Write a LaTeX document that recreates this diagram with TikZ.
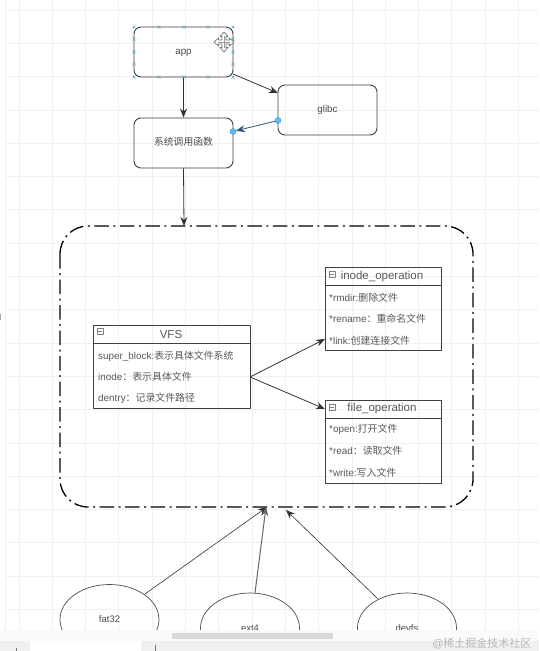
\documentclass[tikz,border=0pt]{standalone}
\usepackage{fontspec}
\setmainfont{Liberation Sans}
\newfontfamily\cjk{Noto Sans CJK SC}
\usetikzlibrary{arrows.meta,shapes.geometric}
\newcommand{\zh}[1]{{\cjk #1}}
\definecolor{portblue}{RGB}{90,190,235}
\definecolor{linkblue}{RGB}{45,85,125}
\tikzset{
	flowbox/.style={draw=black!75,rounded corners=7pt,minimum width=99pt,minimum height=50pt,inner sep=0pt,font=\fontsize{9.8}{11}\selectfont,text=black!70,text height=6pt,text depth=2pt,line width=0.9pt},
	fsnode/.style={draw=black!70,ellipse,minimum width=99pt,minimum height=70pt,inner sep=0pt,line width=0.7pt,font=\fontsize{9.5}{11}\selectfont,text=black!70},
	tablebox/.style={draw=black!75,anchor=north west,inner sep=0pt,line width=0.8pt},
	tablehead/.style={anchor=center,inner sep=0pt,font=\fontsize{11.5}{13}\selectfont,text=black!65},
	tablerow/.style={anchor=west,inner sep=0pt,font=\fontsize{9.9}{11}\selectfont,text=black!65},
	link/.style={draw=black!80,line width=0.8pt,-{Stealth[length=9pt,width=7pt]}},
	handle/.style={cyan!55!gray,line width=0.7pt},
	port/.style={circle,fill=portblue,draw=portblue!70!blue,minimum size=6pt,inner sep=0pt}
}
\begin{document}
\begin{tikzpicture}[x=1pt,y=-1pt,line join=round]
	\useasboundingbox (0,0) rectangle (539,651);
	\fill[white] (0,0) rectangle (539,651);
	% grid
	\foreach \i in {0,...,15} {
		\draw[black!6,line width=1pt] (19+33.3*\i,0) -- (19+33.3*\i,630);
	}
	\foreach \i in {0,...,18} {
		\draw[black!6,line width=0.8pt] (5,10+33.3*\i) -- (539,10+33.3*\i);
	}
	\draw[black!6,line width=1pt] (5,0) -- (5,651);
	\draw[black!35,line width=1pt] (0.5,314) -- (0.5,320);
	
	% boxes on top
	\node[flowbox] (app) at (183.5,52) {app};
	\node[flowbox] (glibc) at (327.5,110) {glibc};
	\node[flowbox] (syscall) at (183.5,143) {\zh{系统调用函数}};
	
	% container
	\draw[black,line width=1.3pt,dash pattern=on 14.5pt off 4.5pt on 2pt off 4.5pt,rounded corners=28pt] (60,226) rectangle (473,507);
	\coordinate (vfstop) at (184,226);
	
	% VFS table
	\node[tablebox,minimum width=157pt,minimum height=83pt] (vfs) at (93,325) {};
	\draw[black!75,line width=0.8pt] (93,343) -- (250,343);
	\node[tablehead] (vfshead) at (171,335) {VFS};
	\node[tablerow] (vfsa) at (98,356) {super\_block:\zh{表示具体文件系统}};
	\node[tablerow] (vfsb) at (98,377) {inode\zh{：表示具体文件}};
	\node[tablerow] (vfsc) at (98,398.5) {dentry\zh{：记录文件路径}};
	\coordinate (vfsout) at (250,377);
	
	% inode table
	\node[tablebox,minimum width=116pt,minimum height=83pt] (inode) at (325,267) {};
	\draw[black!75,line width=0.8pt] (325,285) -- (441,285);
	\node[tablehead] (inodehead) at (382,277) {inode\_operation};
	\node[tablerow] (inodea) at (329,297.5) {*rmdir:\zh{删除文件}};
	\node[tablerow] (inodeb) at (329,319) {*rename\zh{：重命名文件}};
	\node[tablerow] (inodec) at (329,340.5) {*link:\zh{创建连接文件}};
	\coordinate (inodein) at (325,339);
	
	% file table
	\node[tablebox,minimum width=116pt,minimum height=83pt] (file) at (325,400) {};
	\draw[black!75,line width=0.8pt] (325,418) -- (441,418);
	\node[tablehead] (filehead) at (382,409) {file\_operation};
	\node[tablerow] (filea) at (329,429.5) {*open:\zh{打开文件}};
	\node[tablerow] (fileb) at (329,451) {*read\zh{：读取文件}};
	\node[tablerow] (filec) at (329,472.5) {*write:\zh{写入文件}};
	\coordinate (filein) at (325,409);
	
	% the small minus boxes
	\foreach \x/\y in {100/331,332/274,332/407} {
		\draw[black!50,line width=0.5pt] (\x-3,\y-3) rectangle (\x+3,\y+3);
		\draw[black!50,line width=0.5pt] (\x-2,\y) -- (\x+2,\y);
	}
	
	% file systems
	\node[fsnode] (fat) at (109.5,619.5) {fat32};
	\node[fsnode] (ext) at (250,628) {ext4};
	\node[fsnode] (devfs) at (407,628) {devfs};
	\coordinate (fatout) at (145,594);
	\coordinate (extout) at (255,593);
	\coordinate (devout) at (378,599);
	\coordinate (fatin) at (267,507);
	\coordinate (extin) at (266,507);
	\coordinate (devin) at (286,510);
	
	% connectors
	\draw[link] (app.south) -- (syscall.north);
	\draw[link] (233,74) coordinate (appout) -- (278,93) coordinate (glibcin);
	\draw[link,draw=linkblue,shorten >=3pt] (278,120.5) coordinate (glibcout) -- (233,131.5) coordinate (syscallin);
	\draw[link] (syscall.south) -- (vfstop);
	\draw[link] (vfsout) -- (inodein);
	\draw[link] (vfsout) -- (filein);
	\draw[link,line width=0.6pt] (fatout) -- (fatin);
	\draw[link,draw=black!60,line width=1pt] (extout) -- (extin);
	\draw[link,line width=0.6pt] (devout) -- (devin);
	\node[port] (glibcport) at (glibcout) {};
	\node[port] (syscallport) at (syscallin) {};
	
	% handles on app
	\foreach \x in {134,159,184,208,233} {
		\foreach \y in {27,77} {
			\draw[handle] (\x-1.5,\y-1.5) -- (\x+1.5,\y+1.5) (\x-1.5,\y+1.5) -- (\x+1.5,\y-1.5);
		}
	}
	\foreach \x in {134,233} {
		\foreach \y in {39,52,64} {
			\draw[handle] (\x-1.5,\y-1.5) -- (\x+1.5,\y+1.5) (\x-1.5,\y+1.5) -- (\x+1.5,\y-1.5);
		}
	}
	% move cursor
	\draw[black!55,fill=white,line width=0.7pt] (224,32) -- (228,36.5) -- (226,36.5) -- (226,40) -- (229.5,40) -- (229.5,38) -- (234,42) -- (229.5,46) -- (229.5,44) -- (226,44) -- (226,47.5) -- (228,47.5) -- (224,52) -- (220,47.5) -- (222,47.5) -- (222,44) -- (218.5,44) -- (218.5,46) -- (214,42) -- (218.5,38) -- (218.5,40) -- (222,40) -- (222,36.5) -- (220,36.5) -- cycle;
	\draw[black!40,line width=0.5pt] (224,36) -- (224,48) (218,42) -- (230,42);
	
	% bottom bar
	\fill[black!2] (0,630) rectangle (539,641);
	\fill[black!6] (0,641) rectangle (539,651);
	\fill[white] (30,641) rectangle (141,651);
	\fill[black!15] (172,633) rectangle (333,639);
	\draw[black!55,line width=1pt] (16,648) -- (16,651);
	\draw[black!55,line width=1pt] (155,645) -- (155,651);
	\node[font=\fontsize{11}{13}\selectfont,text=black!28,anchor=east] (mark) at (535,644) {@\zh{稀土掘金技术社区}};
\end{tikzpicture}
\end{document}
